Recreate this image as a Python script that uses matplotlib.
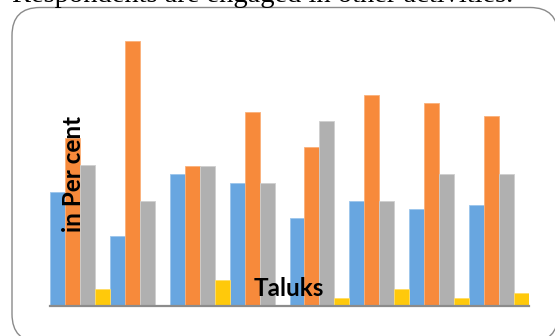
import matplotlib.pyplot as plt
import numpy as np
from matplotlib.patches import FancyBboxPatch

# bar heights (no y scale shown, units are arbitrary)
taluks = ["T1", "T2", "T3", "T4", "T5", "T6", "T7", "T8"]
series_a = [13.0, 7.9, 15.0, 14.0, 10.0, 12.0, 11.0, 11.5]
series_b = [19.1, 30.2, 16.0, 22.1, 18.1, 24.1, 23.1, 21.7]
series_c = [16.1, 12.0, 16.0, 14.0, 21.1, 12.0, 15.0, 15.0]
series_d = [1.9, 0.0, 2.9, 0.0, 0.9, 1.9, 0.9, 1.4]

colors = ["#68A6E0", "#F78A3B", "#B0B0B0", "#FFC90B"]
edges = ["#9CC5EC", "#FAB07A", "#CFCFCF", "#FFDD66"]

W, H = 555, 336
fig = plt.figure(figsize=(W / 100, H / 100), dpi=100)

# background layer in pixel coords: rounded chart frame + cut-off sentence
bg = fig.add_axes([0, 0, 1, 1], zorder=0)
bg.set_xlim(0, W)
bg.set_ylim(H, 0)
bg.axis("off")
frame = FancyBboxPatch((12, 7.5), 546, 334.5, boxstyle="round,pad=0,rounding_size=28",
                       fc="white", ec="#8A8A8A", lw=1.0)
bg.add_patch(frame)
bg.text(12, 1.5, "Respondents are engaged in other activities.", family="Liberation Serif",
        fontsize=20.5, va="baseline", ha="left", color="black")

# main bar chart
x0, x1 = 50, 529
base = 305.5
unit = 8.75
ymax = 32
ax = fig.add_axes([x0 / W, (H - base) / H, (x1 - x0) / W, ymax * unit / H], zorder=1)
ax.patch.set_alpha(0)

x = np.arange(len(taluks))
bw = 0.25
for i, vals in enumerate([series_a, series_b, series_c, series_d]):
    ax.bar(x - 0.375 + i * bw, vals, width=bw, color=colors[i], edgecolor=edges[i], linewidth=0.6)

ax.set_xlim(-0.5, len(taluks) - 0.5)
ax.set_ylim(0, ymax)
for s in ["top", "right", "left"]:
    ax.spines[s].set_visible(False)
ax.spines["bottom"].set_color("#8C8C8C")
ax.spines["bottom"].set_linewidth(1.6)
ax.set_xticks([])
ax.set_yticks([])

fig.text(73.5 / W, 1 - 174 / H, "in Per cent", rotation=90, family="Lato", weight="bold",
         fontsize=17.5, ha="center", va="center", zorder=5)
fig.text(289 / W, 1 - 289 / H, "Taluks", family="Lato", weight="bold",
         fontsize=17.5, ha="center", va="center", zorder=5)

fig.savefig("out.png", dpi=100)
